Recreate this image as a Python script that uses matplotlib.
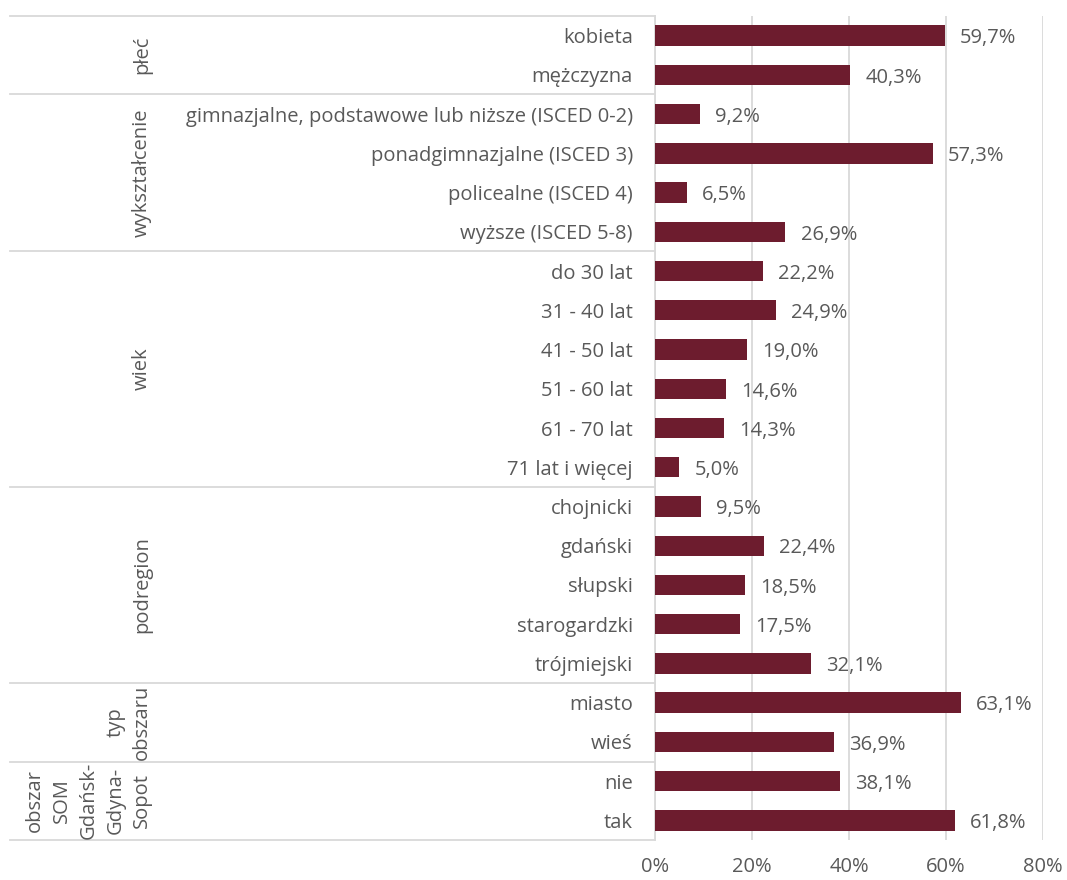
import matplotlib.pyplot as plt
from matplotlib.transforms import blended_transform_factory
import numpy as np

plt.rcParams['font.family'] = ['Open Sans', 'DejaVu Sans']

categories = ['kobieta', 'mężczyzna',
              'gimnazjalne, podstawowe lub niższe (ISCED 0-2)', 'ponadgimnazjalne (ISCED 3)',
              'policealne (ISCED 4)', 'wyższe (ISCED 5-8)',
              'do 30 lat', '31 - 40 lat', '41 - 50 lat', '51 - 60 lat', '61 - 70 lat', '71 lat i więcej',
              'chojnicki', 'gdański', 'słupski', 'starogardzki', 'trójmiejski',
              'miasto', 'wieś',
              'nie', 'tak']
values = [59.7, 40.3,
          9.2, 57.3, 6.5, 26.9,
          22.2, 24.9, 19.0, 14.6, 14.3, 5.0,
          9.5, 22.4, 18.5, 17.5, 32.1,
          63.1, 36.9,
          38.1, 61.8]
groups = ['płeć', 'wykształcenie', 'wiek', 'podregion', 'typ\nobszaru', 'obszar\nSOM\nGdańsk-\nGdyna-\nSopot']
group_sizes = [2, 4, 6, 5, 2, 2]

bar_color = '#6d1c2e'
text_color = '#595959'
grid_color = '#d9d9d9'
fs = 14.5

fig = plt.figure(figsize=(10.67, 8.8), dpi=100)
ax = fig.add_axes([655 / 1067, 1 - 840 / 880, 388 / 1067, 824 / 880])

y = np.arange(len(categories))
ax.barh(y, values, height=0.52, color=bar_color, zorder=3)
ax.set_ylim(len(categories) - 0.5, -0.5)
ax.set_xlim(0, 80)
ax.set_xticks([0, 20, 40, 60, 80])
ax.set_xticklabels(['0%', '20%', '40%', '60%', '80%'])
ax.set_yticks(y)
ax.set_yticklabels(categories)
ax.tick_params(axis='y', length=0, pad=16, labelsize=fs, labelcolor=text_color)
ax.tick_params(axis='x', length=0, pad=12, labelsize=fs, labelcolor=text_color)
ax.grid(axis='x', color=grid_color, linewidth=1.3, zorder=0)
for s in ['top', 'right', 'bottom']:
    ax.spines[s].set_visible(False)
ax.spines['left'].set_color(grid_color)
ax.spines['left'].set_linewidth(1.3)

for yi, v in zip(y, values):
    ax.annotate(f'{v:.1f}%'.replace('.', ','), (v, yi), xytext=(11, -2),
                textcoords='offset points', va='center', ha='left',
                fontsize=fs, color=text_color)

# group separators and group labels
tr = blended_transform_factory(fig.transFigure, ax.transData)
start = -0.5
ax.plot([10 / 1067, 655 / 1067], [start, start], transform=tr, color=grid_color,
        linewidth=1.3, clip_on=False)
for name, n in zip(groups, group_sizes):
    end = start + n
    ax.plot([10 / 1067, 655 / 1067], [end, end], transform=tr, color=grid_color,
            linewidth=1.3, clip_on=False)
    ax.text(152 / 1067, (start + end) / 2, name, transform=tr, rotation=90,
            ha='right', va='center', multialignment='center',
            fontsize=fs, color=text_color, linespacing=1.45)
    start = end

fig.savefig('out.png', dpi=100)
